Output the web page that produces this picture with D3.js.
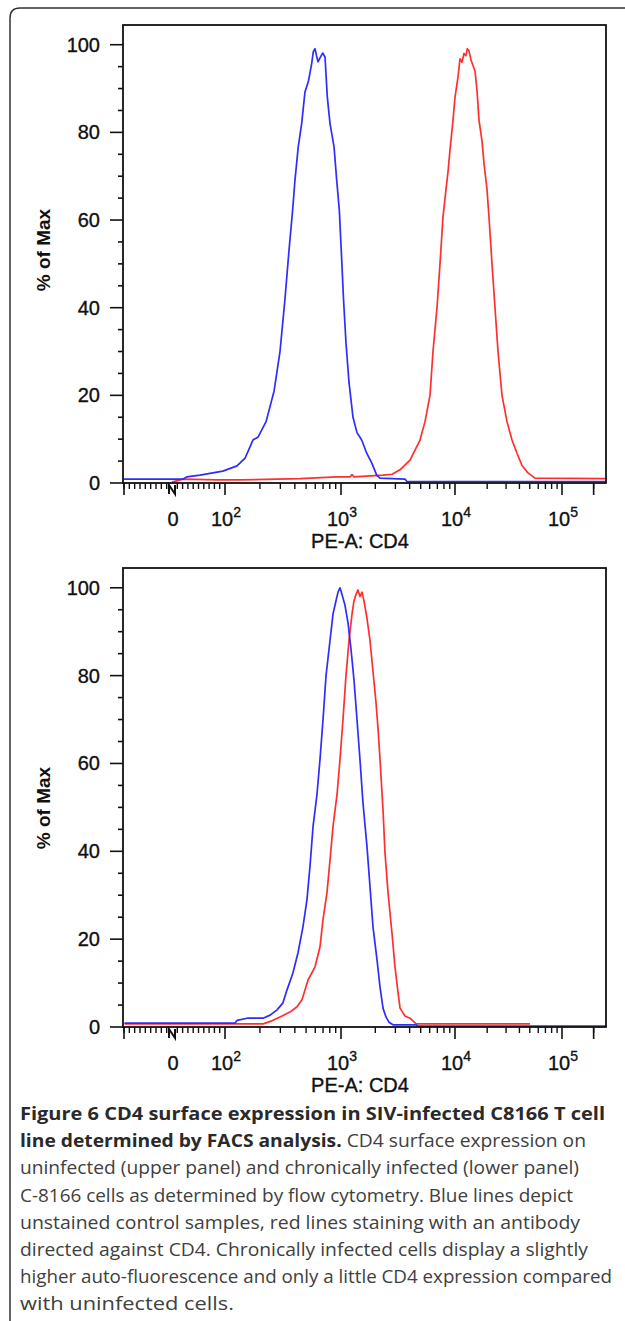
<!DOCTYPE html>
<html>
<head>
<meta charset="utf-8">
<script src="https://cdn.jsdelivr.net/npm/d3@7"></script>
<style>
  body { margin: 0; background: #fff; }
  svg { display: block; }
  .lbl { font-family: 'Liberation Sans', Arial, sans-serif; fill: #111; stroke: #111; stroke-width: 0.35; }
</style>
</head>
<body>
<svg id="fig" width="625" height="1321"></svg>
<script>
'use strict';

// ---- data: x = PE-A (CD4) intensity, y = % of Max ----
const upperBlueX = [-90, 21, 28, 53, 77, 96, 127, 149, 164, 174, 193, 226, 265, 298, 329, 356, 383, 401, 428, 458, 489, 523, 559, 577, 597, 615, 634, 659, 695, 728, 762, 804, 871, 918, 967, 1010, 1052, 1106, 1175, 1274, 1381, 1519, 1680, 1859, 2057, 2199, 3642, 3801, 262000];
const upperBlueY = [0.9, 0.9, 1.4, 1.8, 2.3, 2.7, 3.9, 5.7, 8.2, 9.8, 10.5, 14, 21, 30, 42, 53, 62.3, 69.1, 76.7, 82, 89.2, 91.6, 95.7, 98.4, 99.1, 97.5, 96.1, 97, 98.1, 97.2, 88.1, 82, 76.7, 69.1, 62.3, 52, 42, 32, 23, 15, 11.5, 9.8, 6.8, 4.6, 1.8, 1.1, 0.9, 0.3, 0.3];

const upperRedX = [0, 21, 85, 135, 443, 924, 1200, 1249, 1300, 2336, 2803, 3293, 4030, 4932, 5456, 6035, 6412, 6952, 7386, 7847, 8337, 8683, 9040, 9605, 10000, 10670, 11135, 11620, 12140, 12650, 13030, 13520, 14110, 15380, 16060, 16760, 17880, 18660, 19910, 20780, 22170, 23650, 25230, 27500, 30620, 34100, 37960, 42290, 48100, 55940, 262000];
const upperRedY = [0.2, 0.9, 0.7, 0.7, 1.0, 1.4, 1.4, 1.9, 1.4, 1.8, 2.0, 3.0, 5.2, 9.8, 14, 20, 30, 40, 50, 60.7, 67, 71, 76, 82.8, 88, 92.6, 96.8, 96, 98, 97.5, 99.1, 98.6, 96.5, 94, 89.6, 82.8, 78, 73, 67, 60.7, 50, 40, 30, 20, 14, 9.8, 6.8, 4.0, 2.3, 1.1, 1.0];

const lowerBlueX = [-89, 122, 127, 155, 213, 245, 281, 316, 342, 385, 426, 470, 509, 540, 574, 621, 659, 700, 743, 804, 853, 905, 942, 980, 1020, 1084, 1152, 1224, 1300, 1381, 1467, 1559, 1691, 1796, 1908, 2070, 2199, 2336, 2480, 2636, 2857, 4550, 4740, 262000];
const lowerBlueY = [0.9, 0.9, 1.5, 2.0, 2.0, 2.7, 3.9, 5.5, 8.4, 12.3, 16.9, 22.8, 29, 36.5, 45.6, 53, 60.9, 70, 80, 88, 94, 97, 99, 100, 98.5, 96, 92, 86, 79, 70, 60.9, 51, 41, 32, 22.8, 15.3, 9.1, 4.3, 2.3, 1.1, 0.5, 0.5, 0.2, 0.2];

const lowerRedX = [-89, 127, 213, 254, 298, 363, 418, 461, 520, 597, 659, 700, 757, 804, 853, 925, 980, 1041, 1106, 1175, 1249, 1300, 1355, 1410, 1467, 1528, 1591, 1691, 1796, 1908, 2026, 2112, 2199, 2336, 2432, 2585, 2800, 2975, 3160, 3296, 3642, 4030, 4550, 50200];
const lowerRedY = [0.7, 0.7, 0.7, 1.4, 2.3, 3.4, 4.6, 6.2, 10.7, 13.7, 18.2, 24.5, 30.6, 38, 45.6, 53, 60.9, 70, 80, 88, 94, 97, 98.5, 99.5, 98, 99, 97, 93, 88, 81, 74, 68, 60.9, 49.5, 39.7, 30.6, 21.4, 13.7, 8, 4.3, 2.5, 2, 0.7, 0.7];

const yTicks = [0, 20, 40, 60, 80, 100];
const xDecades = [100, 1000, 10000, 100000];
const xDecadeExp = ['2', '3', '4', '5'];
const xAxisTitle = 'PE-A: CD4';
const yAxisTitle = '% of Max';

const captionLines = [
  [{ b: true, t: 'Figure 6 CD4 surface expression in SIV-infected C8166 T cell' }],
  [{ b: true, t: 'line determined by FACS analysis.' }, { b: false, t: ' CD4 surface expression on' }],
  [{ b: false, t: 'uninfected (upper panel) and chronically infected (lower panel)' }],
  [{ b: false, t: 'C-8166 cells as determined by flow cytometry. Blue lines depict' }],
  [{ b: false, t: 'unstained control samples, red lines staining with an antibody' }],
  [{ b: false, t: 'directed against CD4. Chronically infected cells display a slightly' }],
  [{ b: false, t: 'higher auto-fluorescence and only a little CD4 expression compared' }],
  [{ b: false, t: 'with uninfected cells.' }]
];
const captionWidths = [585, 566, 559, 553, 560, 568, 592, 214];

// ---- layout ----
const svg = d3.select('#fig');
const BLUE = '#2d2dff', RED = '#ff2f2f';
const frameL = 123, frameR = 606;
const panels = [
  { top: 25, base: 483, titleY: 250, blue: [upperBlueX, upperBlueY], red: [upperRedX, upperRedY] },
  { top: 568, base: 1027, titleY: 808, blue: [lowerBlueX, lowerBlueY], red: [lowerRedX, lowerRedY] }
];

// biexponential-like display transform: linear near zero, log above 100
const T = v => Math.abs(v) <= 100 ? v / 100 : Math.sign(v) * (1 + Math.log10(Math.abs(v) / 100));
const xT = d3.scaleLinear()
  .domain([-90, 0, 100, 1e3, 1e4, 1e5, 262144].map(T))
  .range([124, 172, 225, 341, 455, 562, 606]);
const x = v => xT(T(v));

// minor x ticks
const xMinor = [];
for (let k = 1; k <= 9; k++) { xMinor.push(-10 * k); xMinor.push(10 * k); }
[100, 1000, 10000, 100000].forEach(d => { for (let k = 2; k <= 9; k++) if (d * k <= 262144) xMinor.push(d * k); });

// outer rounded border
svg.append('path')
  .attr('d', 'M10,1321 L10,18 Q10,8 20,8 L625,8')
  .attr('fill', 'none').attr('stroke', '#333').attr('stroke-width', 1.5);

panels.forEach(p => {
  const y = d3.scaleLinear().domain([0, 104.5]).range([p.base, p.top]);
  const g = svg.append('g');

  // y ticks
  const yMinor = d3.range(0, 101, 5).filter(v => v % 20 !== 0);
  g.selectAll('.ymin').data(yMinor).enter().append('line')
    .attr('x1', frameL - 5).attr('x2', frameL)
    .attr('y1', d => y(d)).attr('y2', d => y(d))
    .attr('stroke', '#111').attr('stroke-width', 1.6);
  g.selectAll('.ymaj').data(yTicks).enter().append('line')
    .attr('x1', frameL - 13).attr('x2', frameL)
    .attr('y1', d => y(d)).attr('y2', d => y(d))
    .attr('stroke', '#111').attr('stroke-width', 1.6);
  g.selectAll('.ylab').data(yTicks).enter().append('text')
    .attr('class', 'lbl')
    .attr('x', 100).attr('y', d => y(d) + 7)
    .attr('text-anchor', 'end')
    .attr('font-size', 20)
    .text(d => d);

  g.append('text')
    .attr('transform', `translate(50,${p.titleY}) rotate(-90)`)
    .attr('text-anchor', 'middle')
    .attr('font-family', 'Liberation Sans, Arial, sans-serif')
    .attr('font-weight', 'bold').attr('font-size', 19).attr('fill', '#111')
    .text(yAxisTitle);

  // x ticks
  g.selectAll('.xmin').data(xMinor).enter().append('line')
    .attr('x1', d => x(d)).attr('x2', d => x(d))
    .attr('y1', p.base).attr('y2', p.base + 6)
    .attr('stroke', '#111').attr('stroke-width', 1.4);
  g.selectAll('.xmaj').data([-90].concat(xDecades, [200000])).enter().append('line')
    .attr('x1', d => x(d)).attr('x2', d => x(d))
    .attr('y1', p.base).attr('y2', p.base + 12)
    .attr('stroke', '#111').attr('stroke-width', 1.6);
  // zero marker
  g.append('path')
    .attr('d', `M${x(0) - 3},${p.base + 11} L${x(0) - 3},${p.base + 2} L${x(0) + 3},${p.base + 11} L${x(0) + 3},${p.base + 2}`)
    .attr('fill', 'none').attr('stroke', '#111').attr('stroke-width', 2);

  const lab = g.selectAll('.xlab').data(xDecades).enter().append('text')
    .attr('class', 'lbl')
    .attr('x', d => x(d) + 1).attr('y', p.base + 43)
    .attr('text-anchor', 'middle')
    .attr('font-size', 20);
  lab.append('tspan').text('10');
  lab.append('tspan').attr('dy', -9).attr('font-size', 14).text((d, i) => xDecadeExp[i]);
  g.append('text')
    .attr('class', 'lbl')
    .attr('x', x(0) + 1).attr('y', p.base + 43)
    .attr('text-anchor', 'middle')
    .attr('font-size', 20)
    .text('0');
  g.append('text')
    .attr('class', 'lbl')
    .attr('x', 360).attr('y', p.base + 65)
    .attr('text-anchor', 'middle')
    .attr('font-size', 20)
    .text(xAxisTitle);

  // curves
  const line = d3.line().x(d => x(d[0])).y(d => y(d[1]));
  [[p.red, RED], [p.blue, BLUE]].forEach(([s, c]) => {
    g.append('path')
      .datum(d3.zip(s[0], s[1]))
      .attr('d', line)
      .attr('fill', 'none').attr('stroke', c)
      .attr('stroke-width', 1.7).attr('stroke-linejoin', 'round');
  });

  // frame
  g.append('rect')
    .attr('x', frameL).attr('y', p.top)
    .attr('width', frameR - frameL).attr('height', p.base - p.top)
    .attr('fill', 'none').attr('stroke', '#111').attr('stroke-width', 1.8);
});

// caption
const cap = svg.append('g')
  .attr('font-family', 'Open Sans, sans-serif')
  .attr('font-size', 18);
captionLines.forEach((parts, i) => {
  const t = cap.append('text')
    .attr('x', 20).attr('y', 1120 + i * 27.2)
    .attr('textLength', captionWidths[i])
    .attr('lengthAdjust', 'spacingAndGlyphs');
  parts.forEach(pt => {
    t.append('tspan')
      .attr('font-weight', pt.b ? 'bold' : 'normal')
      .attr('fill', pt.b ? '#2a2a2a' : '#404040')
      .text(pt.t);
  });
});
</script>
</body>
</html>
